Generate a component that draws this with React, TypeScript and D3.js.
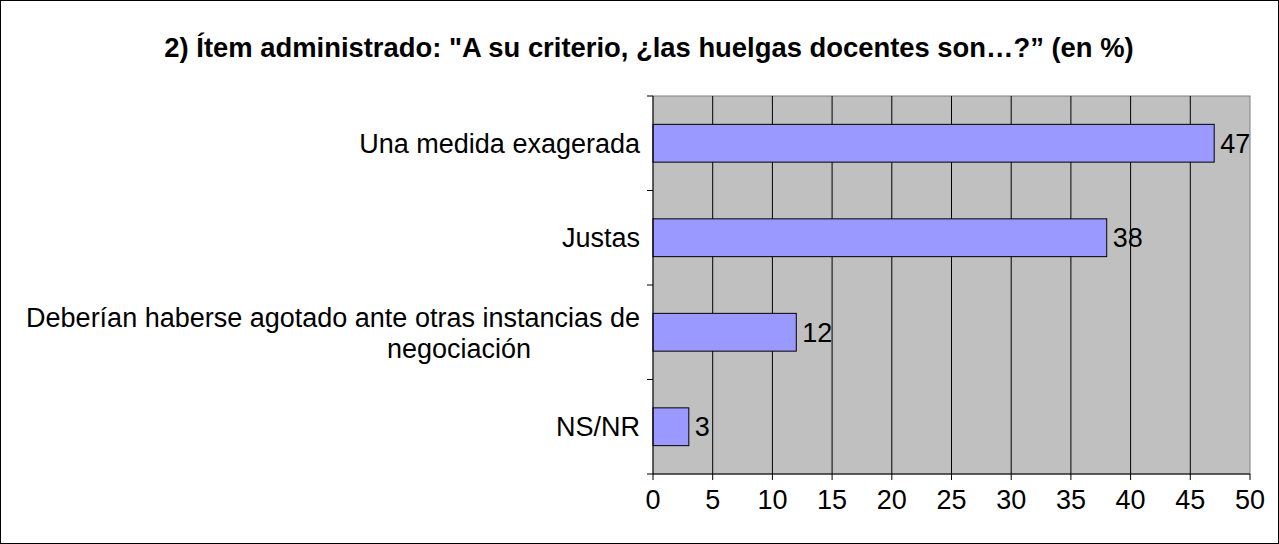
import React from "react";
import * as d3 from "d3";

const categories = [
  "Una medida exagerada",
  "Justas",
  "Deberían haberse agotado ante otras instancias de negociación",
  "NS/NR",
];
const values = [47, 38, 12, 3];
const xTicks = [0, 5, 10, 15, 20, 25, 30, 35, 40, 45, 50];
const title = '2) Ítem administrado: "A su criterio, ¿las huelgas docentes son…?” (en %)';

const W = 1279;
const H = 544;
const plot = { left: 653, right: 1250, top: 96, bottom: 474 };
const font = "'Liberation Sans', Arial, sans-serif";
const fs = 27;

export default function App() {
  const x = d3.scaleLinear().domain([0, 50]).range([plot.left, plot.right]);
  const y = d3
    .scaleBand<string>()
    .domain(categories)
    .range([plot.top, plot.bottom])
    .paddingInner(0.6)
    .paddingOuter(0.3);
  const bandStep = (plot.bottom - plot.top) / categories.length;
  const catTicks = d3.range(categories.length + 1).map((i) => plot.top + i * bandStep);

  return (
    <svg
      width={W}
      height={H}
      style={{ position: "absolute", left: 0, top: 0, background: "#fff" }}
      fontFamily={font}
    >
      <rect x={0.5} y={0.5} width={W - 1} height={H - 1} fill="#fff" stroke="#000" />
      <text x={649} y={57} textAnchor="middle" fontWeight="bold" fontSize={27.4}>
        {title}
      </text>
      <rect
        x={plot.left}
        y={plot.top}
        width={plot.right - plot.left}
        height={plot.bottom - plot.top}
        fill="#C0C0C0"
        stroke="#808080"
      />
      {xTicks.slice(1, -1).map((t) => (
        <line key={t} x1={x(t)} x2={x(t)} y1={plot.top} y2={plot.bottom} stroke="#000" />
      ))}
      {categories.map((c, i) => (
        <rect
          key={c}
          x={x(0)}
          y={y(c)!}
          width={x(values[i]) - x(0)}
          height={y.bandwidth()}
          fill="#9999FF"
          stroke="#000"
        />
      ))}
      {categories.map((c, i) => (
        <text
          key={c + "v"}
          x={x(values[i]) + 6}
          y={y(c)! + y.bandwidth() / 2}
          dy="0.35em"
          fontSize={fs}
        >
          {values[i]}
        </text>
      ))}
      <line x1={plot.left} x2={plot.left} y1={plot.top} y2={plot.bottom} stroke="#000" />
      <line x1={plot.left} x2={plot.right} y1={plot.bottom} y2={plot.bottom} stroke="#000" />
      {catTicks.map((t, i) => (
        <line key={i} x1={plot.left - 6} x2={plot.left} y1={t} y2={t} stroke="#000" />
      ))}
      {xTicks.map((t) => (
        <g key={t}>
          <line x1={x(t)} x2={x(t)} y1={plot.bottom} y2={plot.bottom + 6} stroke="#000" />
          <text x={x(t)} y={plot.bottom + 35} textAnchor="middle" fontSize={fs}>
            {t}
          </text>
        </g>
      ))}
      {categories.map((c, i) => {
        const cy = y(c)! + y.bandwidth() / 2;
        if (i === 2) {
          return (
            <g key={c + "l"}>
              <text x={640} y={cy - 15} dy="0.35em" textAnchor="end" fontSize={fs}>
                Deberían haberse agotado ante otras instancias de
              </text>
              <text x={459} y={cy + 16} dy="0.35em" textAnchor="middle" fontSize={fs}>
                negociación
              </text>
            </g>
          );
        }
        return (
          <text key={c + "l"} x={640} y={cy} dy="0.35em" textAnchor="end" fontSize={fs}>
            {c}
          </text>
        );
      })}
    </svg>
  );
}
